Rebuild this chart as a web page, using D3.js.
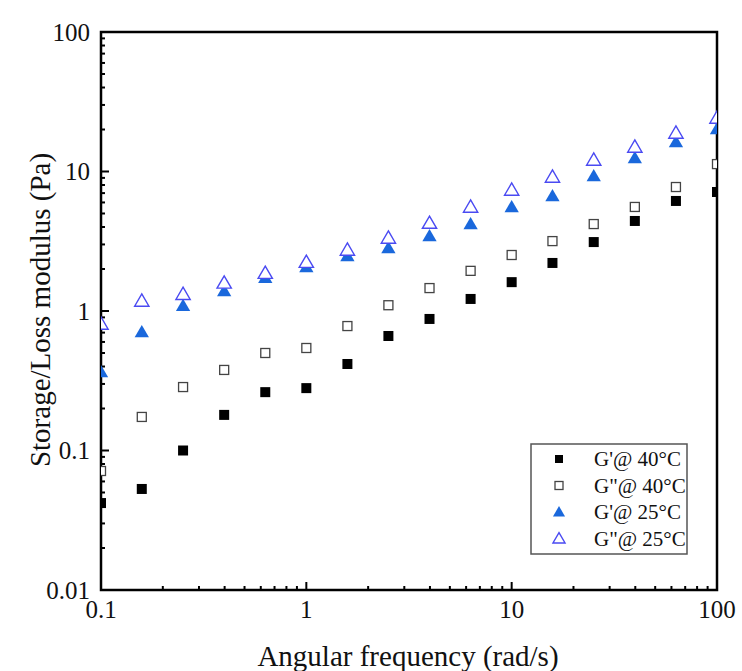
<!DOCTYPE html>
<meta charset="utf-8">
<style>
  body { margin: 0; background: #fff; }
  svg text { font-family: 'Liberation Serif', 'Times New Roman', 'DejaVu Serif', serif; fill: #111; }
</style>
<body>
<svg width="742" height="671" font-family="Liberation Serif, serif"></svg>
<script src="https://cdn.jsdelivr.net/npm/d3@7"></script>
<script>
  // angular frequency (rad/s)
  const freq = [0.1, 0.158, 0.251, 0.398, 0.631, 1, 1.585, 2.51, 3.98, 6.31, 10, 15.8, 25.1, 39.8, 63.1, 100];
  // moduli (Pa)
  const gp40  = [0.042, 0.053, 0.1, 0.18, 0.262, 0.28, 0.417, 0.662, 0.877, 1.22, 1.61, 2.21, 3.12, 4.42, 6.15, 7.13];
  const gpp40 = [0.0713, 0.174, 0.285, 0.378, 0.5, 0.543, 0.78, 1.1, 1.46, 1.94, 2.52, 3.17, 4.2, 5.57, 7.74, 11.3];
  const gp25  = [0.365, 0.707, 1.09, 1.39, 1.73, 2.07, 2.48, 2.83, 3.45, 4.2, 5.57, 6.67, 9.29, 12.5, 16.3, 20.2];
  const gpp25 = [0.807, 1.18, 1.32, 1.59, 1.87, 2.24, 2.74, 3.34, 4.27, 5.57, 7.37, 9.14, 12.1, 15.0, 18.9, 24.2];
  const seriesNames = ["G'@ 40\u00b0C", "G\"@ 40\u00b0C", "G'@ 25\u00b0C", "G\"@ 25\u00b0C"];
  const xTicks = [0.1, 1, 10, 100];
  const yTicks = [0.01, 0.1, 1, 10, 100];

  const series = [
    {name: seriesNames[0], values: gp40,  shape: "square",   fill: "#000",    stroke: "none"},
    {name: seriesNames[1], values: gpp40, shape: "square",   fill: "#fff",    stroke: "#444"},
    {name: seriesNames[2], values: gp25,  shape: "triangle", fill: "#1a68dc", stroke: "none"},
    {name: seriesNames[3], values: gpp25, shape: "triangle", fill: "#fff",    stroke: "#4a4af2"}
  ];

  const svg = d3.select("svg");
  const margin = {top: 32, right: 25, bottom: 81, left: 101};
  const width = +svg.attr("width") - margin.left - margin.right;
  const height = +svg.attr("height") - margin.top - margin.bottom;

  const x = d3.scaleLog().domain([0.1, 100]).range([0, width]);
  const y = d3.scaleLog().domain([0.01, 100]).range([height, 0]);

  const g = svg.append("g").attr("transform", `translate(${margin.left},${margin.top})`);

  svg.append("defs").append("clipPath").attr("id", "clip")
    .append("rect").attr("width", width).attr("height", height);

  function minorTicks(scale) {
    const [a, b] = scale.domain();
    return scale.ticks().filter(v => v > a && v < b && !xTicks.concat(yTicks).includes(v));
  }

  // minor ticks (inward)
  g.append("g").selectAll("line").data(minorTicks(x)).join("line")
    .attr("x1", d => x(d)).attr("x2", d => x(d))
    .attr("y1", height).attr("y2", height - 4)
    .attr("stroke", "#000").attr("stroke-width", 2);
  g.append("g").selectAll("line").data(minorTicks(y)).join("line")
    .attr("y1", d => y(d)).attr("y2", d => y(d))
    .attr("x1", 0).attr("x2", 4)
    .attr("stroke", "#000").attr("stroke-width", 2);

  // major ticks
  g.append("g").selectAll("line").data(xTicks).join("line")
    .attr("x1", d => x(d)).attr("x2", d => x(d))
    .attr("y1", height).attr("y2", height - 8)
    .attr("stroke", "#000").attr("stroke-width", 2);
  g.append("g").selectAll("line").data(yTicks).join("line")
    .attr("y1", d => y(d)).attr("y2", d => y(d))
    .attr("x1", 0).attr("x2", 8)
    .attr("stroke", "#000").attr("stroke-width", 2);

  // frame
  g.append("rect").attr("width", width).attr("height", height)
    .attr("fill", "none").attr("stroke", "#000").attr("stroke-width", 2.5);

  // tick labels
  g.append("g").selectAll("text").data(xTicks).join("text")
    .attr("x", d => x(d)).attr("y", height + 28)
    .attr("text-anchor", "middle").attr("font-size", 25)
    .text(d => d);
  g.append("g").selectAll("text").data(yTicks).join("text")
    .attr("x", -11).attr("y", d => y(d)).attr("dy", "0.35em")
    .attr("text-anchor", "end").attr("font-size", 25)
    .text(d => d);

  // axis titles
  svg.append("text")
    .attr("x", margin.left + width / 2 - 1).attr("y", 666)
    .attr("text-anchor", "middle").attr("font-size", 29)
    .text("Angular frequency (rad/s)");
  svg.append("text")
    .attr("transform", "translate(50,310) rotate(-90)")
    .attr("text-anchor", "middle").attr("font-size", 29)
    .text("Storage/Loss modulus (Pa)");

  function marker(sel, s, size) {
    if (s.shape === "square") {
      sel.append("rect")
        .attr("x", -size / 2).attr("y", -size / 2)
        .attr("width", size).attr("height", size)
        .attr("fill", s.fill).attr("stroke", s.stroke).attr("stroke-width", 1.3);
    } else {
      const h = size * 0.9, w = size * 0.55;
      sel.append("path")
        .attr("d", `M0,${-h * 0.6}L${w},${h * 0.45}L${-w},${h * 0.45}Z`)
        .attr("fill", s.fill).attr("stroke", s.stroke).attr("stroke-width", 1.4);
    }
  }

  const plot = g.append("g").attr("clip-path", "url(#clip)");
  series.forEach(s => {
    plot.append("g").selectAll("g").data(s.values).join("g")
      .attr("transform", (d, i) => `translate(${x(freq[i])},${y(d)})`)
      .each(function () { marker(d3.select(this), s, s.shape === "square" ? (s.stroke === "none" ? 10 : 9) : 13); });
  });

  // legend
  const leg = svg.append("g").attr("transform", "translate(531,444)");
  leg.append("rect").attr("width", 156).attr("height", 110)
    .attr("fill", "#fff").attr("stroke", "#555").attr("stroke-width", 1.5);
  series.forEach((s, i) => {
    const row = leg.append("g").attr("transform", `translate(28,${15 + i * 26.5})`);
    marker(row.append("g"), s, s.shape === "square" ? 8 : 11);
    row.append("text").attr("x", 35).attr("dy", "0.35em").attr("font-size", 21).text(s.name);
  });
</script>
</body>
